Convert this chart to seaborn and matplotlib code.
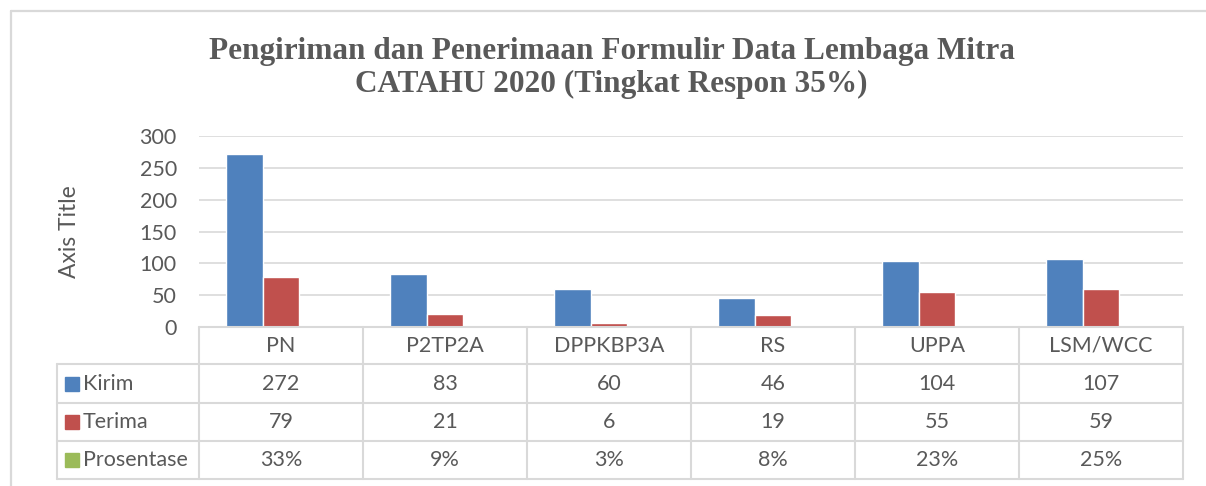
import matplotlib
matplotlib.use("Agg")
import matplotlib.pyplot as plt
import matplotlib.transforms as mtransforms
from matplotlib.lines import Line2D
import pandas as pd
import seaborn as sns

# data
categories = ["PN", "P2TP2A", "DPPKBP3A", "RS", "UPPA", "LSM/WCC"]
kirim = [272, 83, 60, 46, 104, 107]
terima = [79, 21, 6, 19, 55, 59]
prosentase = [0.33, 0.09, 0.03, 0.08, 0.23, 0.25]
series = ["Kirim", "Terima", "Prosentase"]
colors = {"Kirim": "#4F81BD", "Terima": "#C0504D", "Prosentase": "#9BBB59"}

df = pd.DataFrame({
    "kategori": categories * 3,
    "seri": [s for s in series for _ in categories],
    "nilai": kirim + terima + prosentase,
})

sns.set_theme(style="white")
plt.rcParams["font.family"] = ["Lato", "DejaVu Sans"]
text_color = "#595959"
line_color = "#D9D9D9"
fs = 15.5

W, H = 1206, 486
fig = plt.figure(figsize=(W / 100, H / 100), dpi=100)
ax = fig.add_axes([199 / W, 1 - 327 / H, (1183 - 199) / W, 191 / H])

sns.barplot(data=df, x="kategori", y="nilai", hue="seri", order=categories,
            hue_order=series, palette=colors, width=0.67, saturation=1,
            legend=False, ax=ax)

ax.set_xlim(-0.5, len(categories) - 0.5)
ax.set_ylim(0, 300)
ax.set_yticks(range(0, 301, 50))
ax.yaxis.grid(True, color=line_color, linewidth=1.2)
ax.set_axisbelow(True)
ax.set_xticks([])
ax.set_xlabel("")
ax.tick_params(axis="y", length=0, pad=16, labelsize=fs, labelcolor=text_color)
ax.set_ylabel("Axis Title", fontsize=16.5, color=text_color, labelpad=43)
for s in ax.spines.values():
    s.set_visible(False)

# data table below the plot
trans = mtransforms.blended_transform_factory(ax.transData, ax.transAxes)
rows_y = [0, -37 / 191, -76 / 191, -114 / 191, -152 / 191]
x_left = -0.5 - (199 - 57) / 164
n = len(categories)

def hline(y, x0, x1):
    ax.add_line(Line2D([x0, x1], [y, y], transform=trans, color=line_color,
                       linewidth=1.5, clip_on=False))

def vline(x, y0, y1):
    ax.add_line(Line2D([x, x], [y0, y1], transform=trans, color=line_color,
                       linewidth=1.5, clip_on=False))

hline(rows_y[0], -0.5, n - 0.5)
for y in rows_y[1:]:
    hline(y, x_left, n - 0.5)
for k in range(n + 1):
    vline(k - 0.5, rows_y[0], rows_y[-1])
vline(x_left, rows_y[1], rows_y[-1])

def mid(r):
    return (rows_y[r] + rows_y[r + 1]) / 2

for i, cat in enumerate(categories):
    ax.text(i, mid(0), cat, transform=trans, ha="center", va="center",
            fontsize=fs, color=text_color)

rows = [
    ("Kirim", [str(v) for v in kirim]),
    ("Terima", [str(v) for v in terima]),
    ("Prosentase", [f"{round(v * 100)}%" for v in prosentase]),
]
key_x = -0.5 - (199 - 72) / 164
lab_x = -0.5 - (199 - 83) / 164
for r, (name, vals) in enumerate(rows, start=1):
    ax.plot([key_x], [mid(r)], marker="s", markersize=9.5, color=colors[name],
            transform=trans, clip_on=False, linestyle="none")
    ax.text(lab_x, mid(r), name, transform=trans, ha="left", va="center",
            fontsize=fs, color=text_color)
    for i, v in enumerate(vals):
        ax.text(i, mid(r), v, transform=trans, ha="center", va="center",
                fontsize=fs, color=text_color)

# chart frame
fig.add_artist(Line2D([11 / W, 1], [1 - 11 / H, 1 - 11 / H], color=line_color, linewidth=1.6))
fig.add_artist(Line2D([11 / W, 11 / W], [0, 1 - 11 / H], color=line_color, linewidth=1.6))

fig.text(0.507, 1 - 68 / H,
         "Pengiriman dan Penerimaan Formulir Data Lembaga Mitra\nCATAHU 2020 (Tingkat Respon 35%)",
         ha="center", va="center", family="Liberation Serif", weight="bold",
         fontsize=22.5, color=text_color, linespacing=1.15)

fig.savefig("out.png", dpi=100)
